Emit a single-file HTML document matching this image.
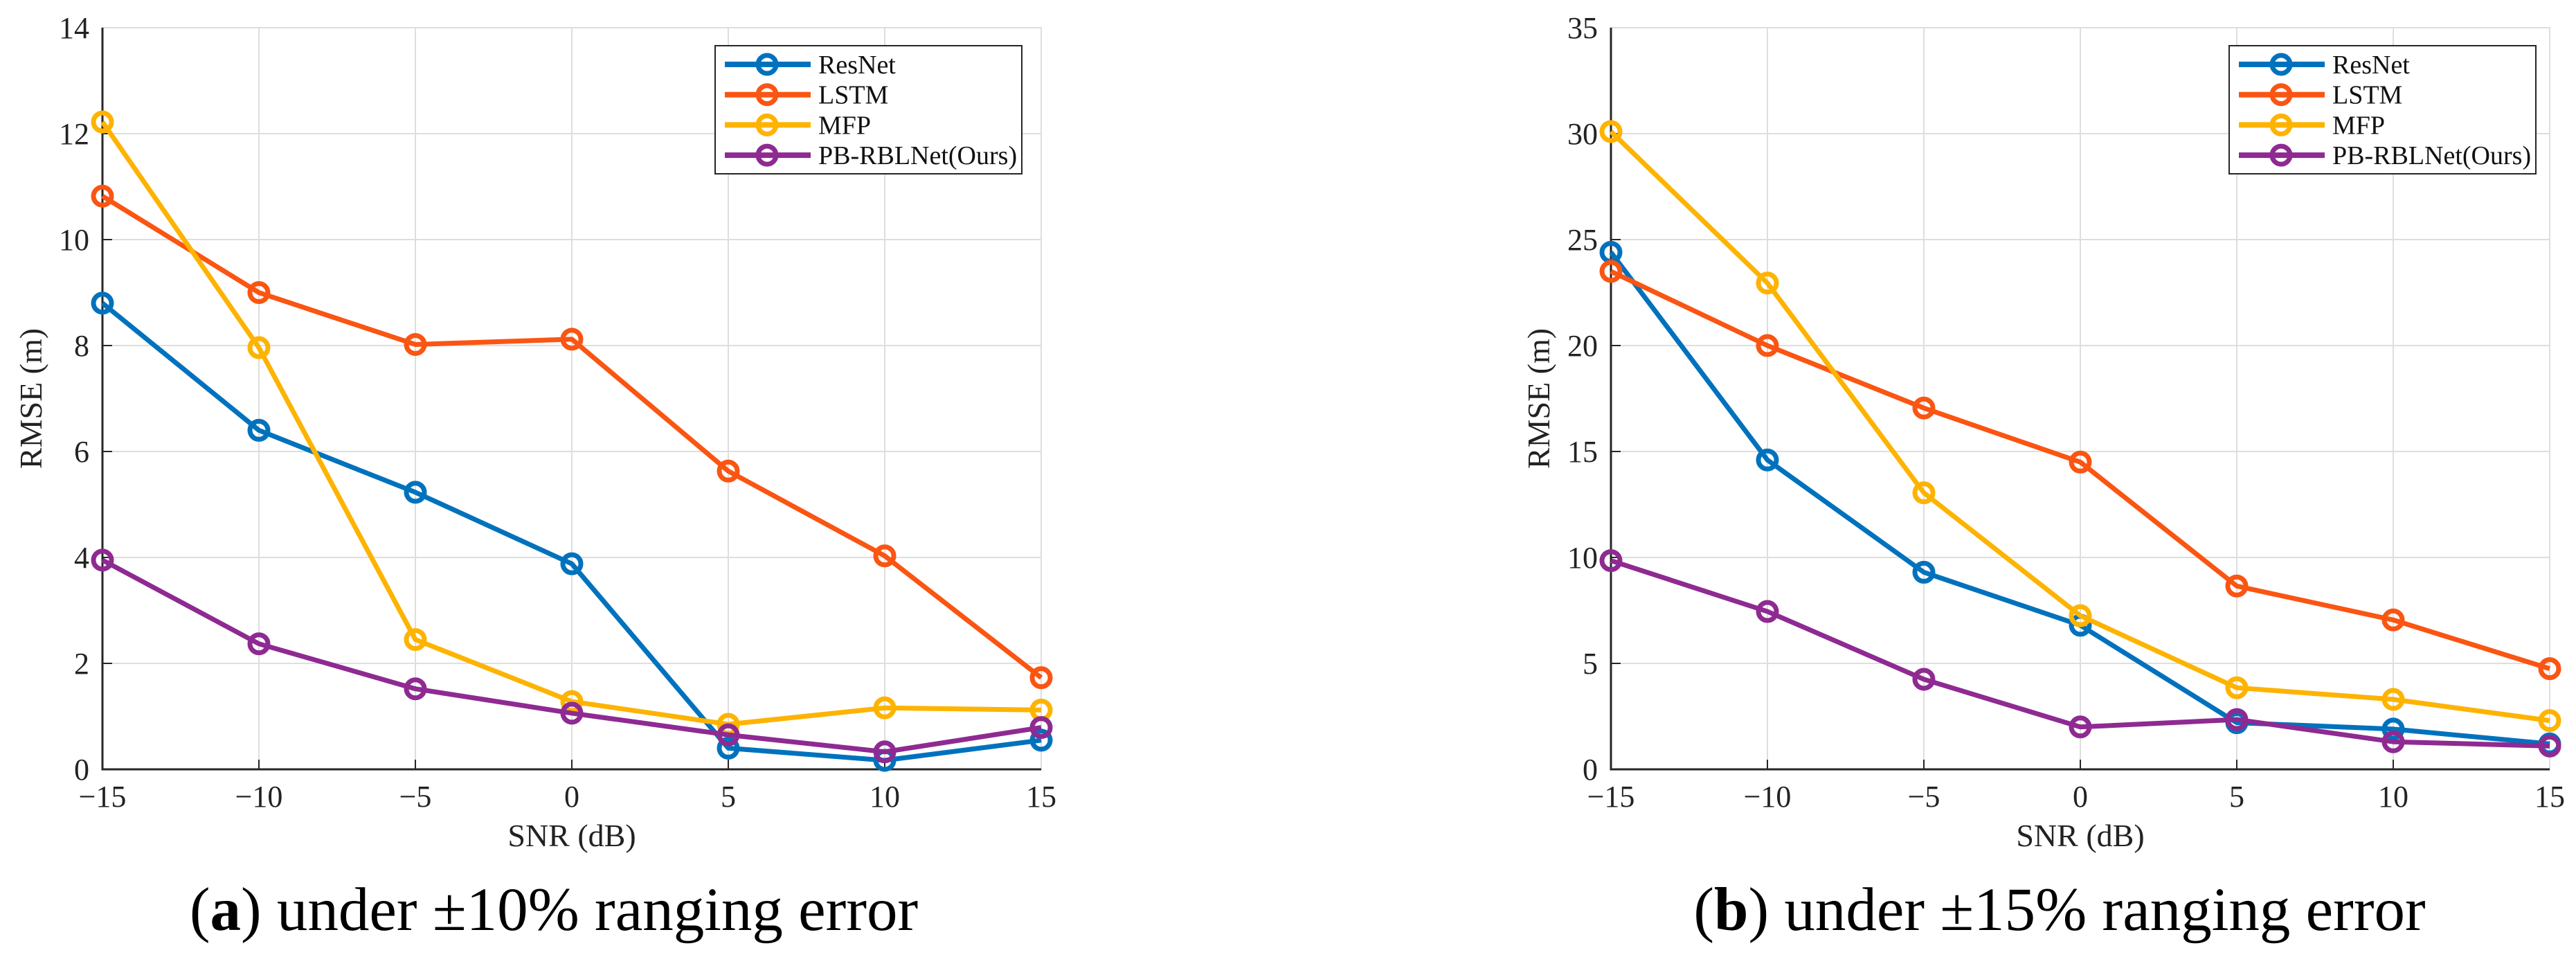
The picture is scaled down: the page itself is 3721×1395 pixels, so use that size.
<!DOCTYPE html>
<html><head><meta charset="utf-8"><style>
html,body{margin:0;padding:0;background:#fff;}
svg{display:block;font-family:"Liberation Serif",serif;}
</style></head><body>
<svg id="chart" width="3721" height="1395" viewBox="0 0 3721 1395" xmlns="http://www.w3.org/2000/svg"></svg>
<script>
const categories = [-15, -10, -5, 0, 5, 10, 15];
const seriesNames = ["ResNet", "LSTM", "MFP", "PB-RBLNet(Ours)"];
const aResNet = [8.8, 6.4, 5.23, 3.88, 0.4, 0.17, 0.55];
const aLSTM = [10.82, 9.0, 8.02, 8.12, 5.63, 4.03, 1.73];
const aMFP = [12.22, 7.96, 2.45, 1.28, 0.85, 1.16, 1.12];
const aPB = [3.95, 2.37, 1.52, 1.06, 0.65, 0.33, 0.79];
const bResNet = [24.4, 14.6, 9.3, 6.8, 2.2, 1.9, 1.2];
const bLSTM = [23.5, 20.0, 17.05, 14.5, 8.65, 7.05, 4.75];
const bMFP = [30.1, 22.95, 13.05, 7.25, 3.85, 3.3, 2.3];
const bPB = [9.85, 7.45, 4.25, 2.0, 2.35, 1.3, 1.1];
const aYTicks = [0, 2, 4, 6, 8, 10, 12, 14];
const bYTicks = [0, 5, 10, 15, 20, 25, 30, 35];
const xTickLabels = ["\u221215", "\u221210", "\u22125", "0", "5", "10", "15"];

const colors = ["#0072BD", "#FA5512", "#FDB300", "#8E2A92"];
const NS = "http://www.w3.org/2000/svg";
const svg = document.getElementById("chart");
function mk(tag, attrs, parent) {
  const e = document.createElementNS(NS, tag);
  for (const k in attrs) e.setAttribute(k, attrs[k]);
  (parent || svg).appendChild(e);
  return e;
}
function panel(id, L, R, T, B, yTicks, series, ylabX, lgL, lgR, caption, capX, capLetter) {
  const g = mk("g", {});
  
  
  const ymax = yTicks[yTicks.length - 1];
  const xs = v => L + (v - categories[0]) / (categories[categories.length - 1] - categories[0]) * (R - L);
  const ys = v => B - v / ymax * (B - T);
  categories.forEach((c, i) => {
    const gl = mk("line", {x1: xs(c), x2: xs(c), y1: T, y2: B, stroke: "#dedede", "stroke-width": 2}, g);
    
    
    mk("line", {x1: xs(c), x2: xs(c), y1: B, y2: B - 14, stroke: "#262626", "stroke-width": 2}, g);
    const t = mk("text", {x: xs(c), y: 1165, "font-size": 44, "text-anchor": "middle", fill: "#222"}, g);
    t.textContent = xTickLabels[i];
    
    
  });
  yTicks.forEach(v => {
    const gl = mk("line", {x1: L, x2: R, y1: ys(v), y2: ys(v), stroke: "#dedede", "stroke-width": 2}, g);
    
    
    mk("line", {x1: L, x2: L + 14, y1: ys(v), y2: ys(v), stroke: "#262626", "stroke-width": 2}, g);
    const t = mk("text", {x: L - 19, y: ys(v) + 15, "font-size": 44, "text-anchor": "end", fill: "#222"}, g);
    t.textContent = v;
    
    
  });
  mk("rect", {x: L, y: T, width: R - L, height: B - T, fill: "none", stroke: "#dedede", "stroke-width": 2}, g);
  const ax = mk("path", {d: `M${L},${T}V${B}H${R}`, fill: "none", stroke: "#262626", "stroke-width": 3}, g);
  
  
  series.forEach((s, si) => {
    const pts = s.map((v, i) => xs(categories[i]) + "," + ys(v)).join(" ");
    const pl = mk("polyline", {points: pts, fill: "none", stroke: colors[si], "stroke-width": 7, "stroke-linejoin": "round"}, g);
    
    
    s.forEach((v, i) => {
      const c = mk("circle", {cx: xs(categories[i]), cy: ys(v), r: 13, fill: "none", stroke: colors[si], "stroke-width": 7}, g);
      
      
    });
  });
  const xl = mk("text", {x: (L + R) / 2, y: 1222, "font-size": 46, "text-anchor": "middle", fill: "#222"}, g);
  xl.textContent = "SNR (dB)";
  
  
  const yl = mk("text", {x: 0, y: 0, "font-size": 46, "text-anchor": "middle", fill: "#222", transform: `translate(${ylabX},${(T + B) / 2}) rotate(-90)`}, g);
  yl.textContent = "RMSE (m)";
  
  
  const lg = mk("g", {}, g);
  
  
  mk("rect", {x: lgL, y: 66, width: lgR - lgL, height: 185, fill: "#fff", stroke: "#262626", "stroke-width": 2}, lg);
  seriesNames.forEach((n, si) => {
    const y = 93 + si * 43.7;
    const e = mk("g", {}, lg);
    
    
    mk("line", {x1: lgL + 14, x2: lgL + 138, y1: y, y2: y, stroke: colors[si], "stroke-width": 8}, e);
    mk("circle", {cx: lgL + 75, cy: y, r: 13, fill: "none", stroke: colors[si], "stroke-width": 7}, e);
    const t = mk("text", {x: lgL + 149, y: y + 13, "font-size": 38, fill: "#111"}, e);
    t.textContent = n;
  });
  const cap = mk("text", {x: capX, y: 1343, "font-size": 89, "text-anchor": "middle", fill: "#000"}, g);
  
  
  cap.innerHTML = '(<tspan font-weight="bold">' + capLetter + '</tspan>) ' + caption;
}
panel("panel-a", 148, 1504, 40, 1111, aYTicks, [aResNet, aLSTM, aMFP, aPB], 60, 1033, 1476, "under \u00b110% ranging error", 800, "a");
panel("panel-b", 2327, 3683, 40, 1111, bYTicks, [bResNet, bLSTM, bMFP, bPB], 2238, 3220, 3663, "under \u00b115% ranging error", 2975, "b");
</script>
</body></html>
